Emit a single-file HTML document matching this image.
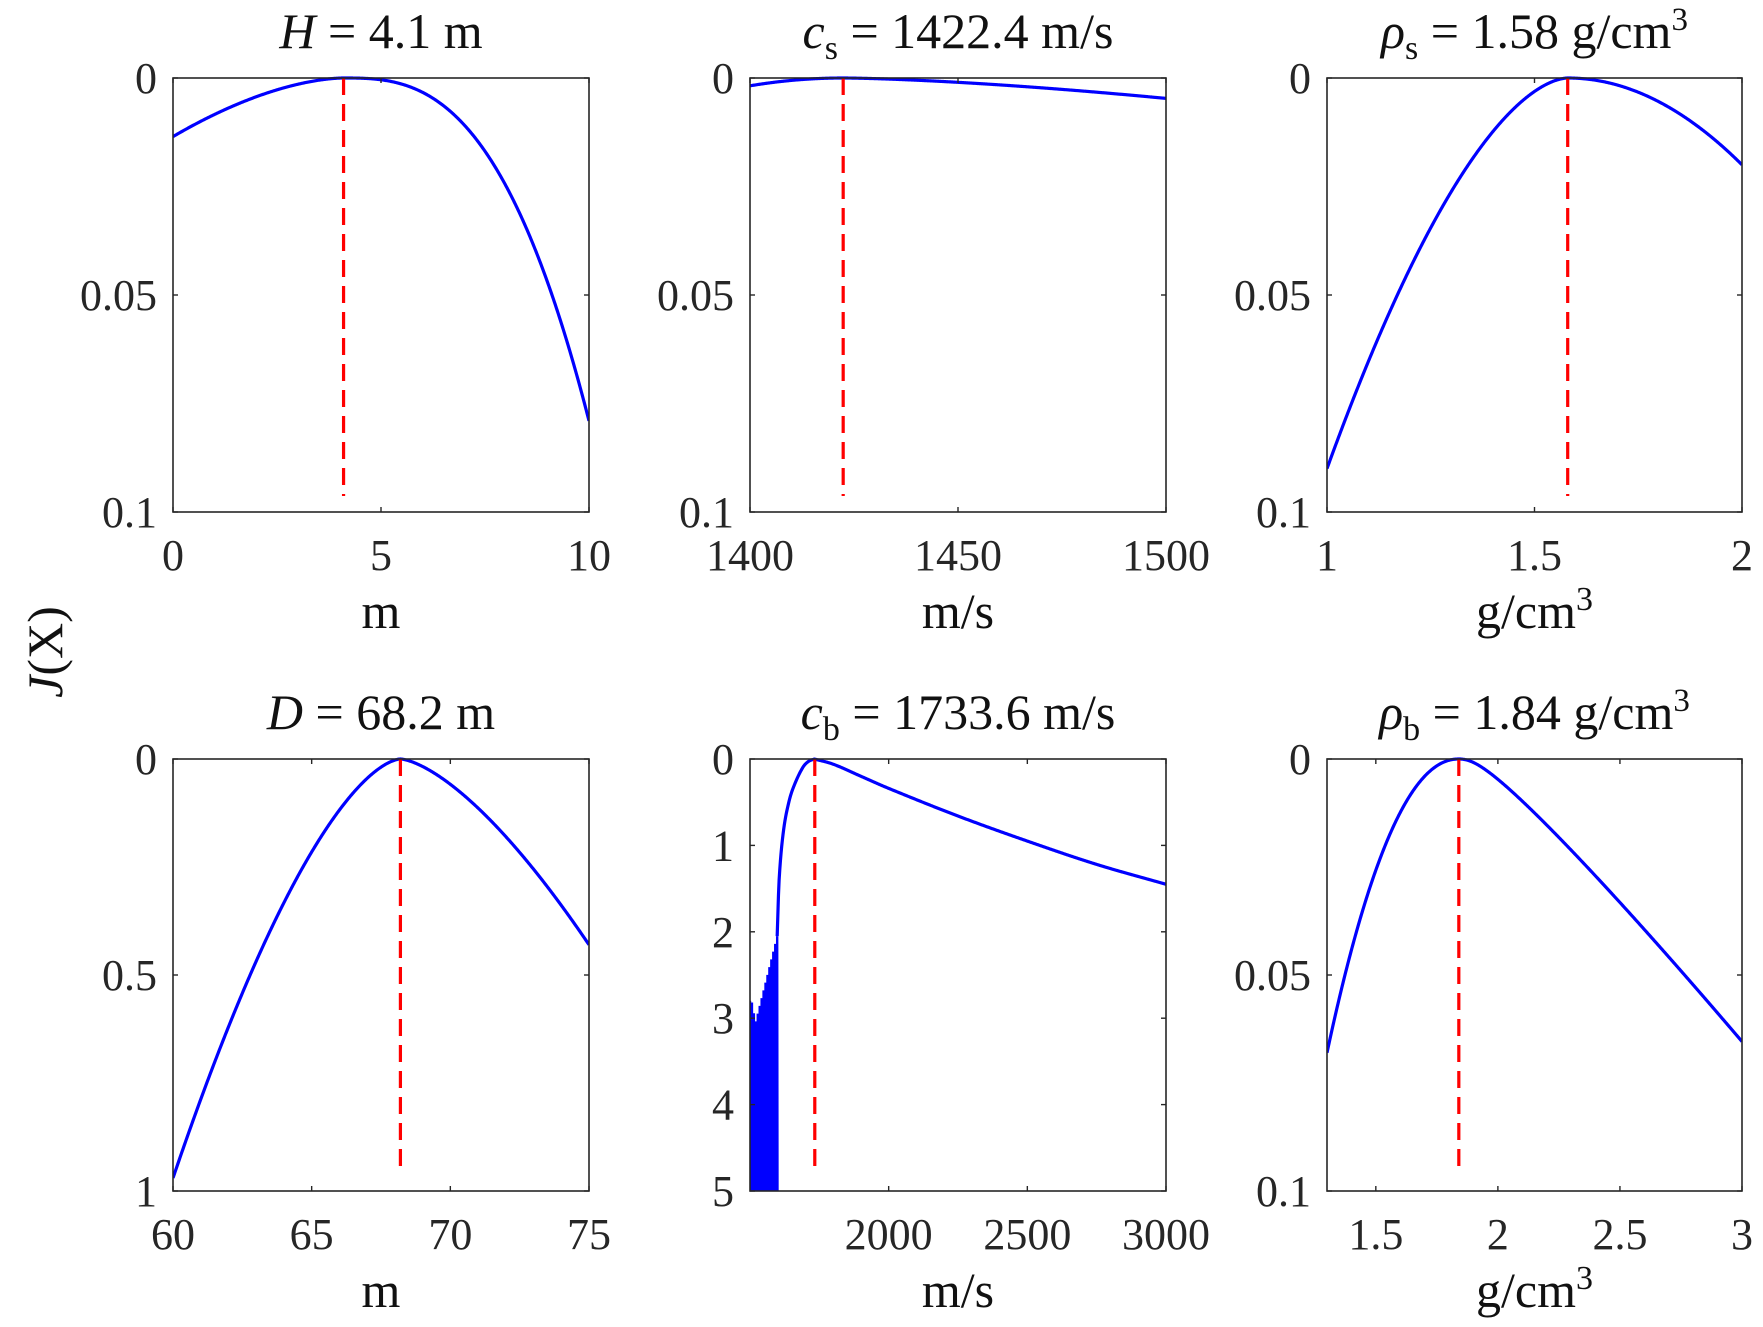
<!DOCTYPE html>
<html><head><meta charset="utf-8">
<style>
html,body{margin:0;padding:0;background:#fff;}
svg{display:block;font-family:"Liberation Serif","DejaVu Serif",serif;}
</style></head>
<body>
<svg id="s" width="1763" height="1327" viewBox="0 0 1763 1327" xmlns="http://www.w3.org/2000/svg">
<text transform="translate(62,652) rotate(-90)" text-anchor="middle" font-size="50" fill="#111"><tspan font-style="italic">J</tspan>(X)</text>
</svg>
<script>
const S=document.getElementById('s');const NS='http://www.w3.org/2000/svg';
function el(t,a,txt){const e=document.createElementNS(NS,t);for(const k in a)e.setAttribute(k,a[k]);if(txt!==undefined)e.innerHTML=txt;S.appendChild(e);return e;}
const cols=[[173,589],[750,1166],[1327,1742]],rows=[[78,512],[759,1191]];
function interp(p,x){const n=p.length;for(let i=0;i<n-1;i++){if(x>=p[i][0]&&x<=p[i+1][0]){
 const x0=p[i][0],x1=p[i+1][0],h=x1-x0,t=(x-x0)/h;
 const m=j=>{if(j<=0)return (p[1][1]-p[0][1])/(p[1][0]-p[0][0]);if(j>=n-1)return (p[n-1][1]-p[n-2][1])/(p[n-1][0]-p[n-2][0]);return (p[j+1][1]-p[j-1][1])/(p[j+1][0]-p[j-1][0]);};
 const m0=m(i)*h,m1=m(i+1)*h,t2=t*t,t3=t2*t;
 return (2*t3-3*t2+1)*p[i][1]+(t3-2*t2+t)*m0+(-2*t3+3*t2)*p[i+1][1]+(t3-t2)*m1;}}return p[n-1][1];}
const cbR=[[1732,0],[1800,0.06],[1900,0.2],[2000,0.34],[2250,0.66],[2500,0.95],[2750,1.22],[3000,1.45]];
const cbL=[[1598,2.05],[1605,1.4],[1620,0.85],[1640,0.5],[1660,0.3],[1690,0.1],[1710,0.03],[1732,0]];
function hyp(d,s){return Math.sqrt(d*d+s*s)-s;}
const P=[
 {c:0,r:0,x0:0,x1:10,y1:0.1,xt:[0,5,10],yt:[[0,'0'],[0.05,'0.05'],[0.1,'0.1']],pk:4.1,
  f:x=>{const d=x-4.1;return d<0?0.0135*Math.pow(-d/4.1,1.7):0.079*Math.pow(d/5.9,2.8);},
  title:'<tspan font-style="italic">H</tspan> = 4.1 m',xl:'m'},
 {c:1,r:0,x0:1400,x1:1500,y1:0.1,xt:[1400,1450,1500],yt:[[0,'0'],[0.05,'0.05'],[0.1,'0.1']],pk:1422.4,
  f:x=>{const d=x-1422.4;return d<0?0.0018*Math.pow(-d/22.4,2):0.0047*Math.pow(d/77.6,1.5);},
  title:'<tspan font-style="italic">c</tspan><tspan font-size="34" dy="11">s</tspan><tspan dy="-11"> = 1422.4 m/s</tspan>',xl:'m/s'},
 {c:2,r:0,x0:1,x1:2,y1:0.1,xt:[[1,'1'],[1.5,'1.5'],[2,'2']],yt:[[0,'0'],[0.05,'0.05'],[0.1,'0.1']],pk:1.58,
  f:x=>{const d=x-1.58;return d<0?0.09*Math.pow(-d/0.58,1.7):0.02*Math.pow(d/0.42,2);},
  title:'<tspan font-style="italic">ρ</tspan><tspan font-size="34" dy="11">s</tspan><tspan dy="-11"> = 1.58 g/cm</tspan><tspan font-size="33" dy="-18">3</tspan>',xl:'g/cm<tspan font-size="34" dy="-18">3</tspan>'},
 {c:0,r:1,x0:60,x1:75,y1:1,xt:[60,65,70,75],yt:[[0,'0'],[0.5,'0.5'],[1,'1']],pk:68.2,
  f:x=>{const d=x-68.2;return d<0?0.97*Math.pow(-d/8.2,1.6):0.43*Math.pow(d/6.8,1.5);},
  title:'<tspan font-style="italic">D</tspan> = 68.2 m',xl:'m'},
 {c:1,r:1,x0:1500,x1:3000,y1:5,xt:[2000,2500,3000],yt:[[0,'0'],[1,'1'],[2,'2'],[3,'3'],[4,'4'],[5,'5']],pk:1733.6,
  f:x=>x>=1732?interp(cbR,x):interp(cbL,x),x2:1598,
  title:'<tspan font-style="italic">c</tspan><tspan font-size="34" dy="11">b</tspan><tspan dy="-11"> = 1733.6 m/s</tspan>',xl:'m/s'},
 {c:2,r:1,x0:1.3,x1:3,y1:0.1,xt:[[1.5,'1.5'],[2,'2'],[2.5,'2.5'],[3,'3']],yt:[[0,'0'],[0.05,'0.05'],[0.1,'0.1']],pk:1.84,
  f:x=>{const d=x-1.84;return d<0?0.068*Math.pow(-d/0.54,2.1):0.0654*Math.pow(hyp(d,0.08)/hyp(1.16,0.08),1.1);},
  title:'<tspan font-style="italic">ρ</tspan><tspan font-size="34" dy="11">b</tspan><tspan dy="-11"> = 1.84 g/cm</tspan><tspan font-size="33" dy="-18">3</tspan>',xl:'g/cm<tspan font-size="34" dy="-18">3</tspan>'}
];
P.forEach((p,i)=>{
 const [L,R]=cols[p.c],[T,B]=rows[p.r];
 const X=v=>L+(v-p.x0)/(p.x1-p.x0)*(R-L), Y=v=>T+v/p.y1*(B-T);
 const cid='c'+i;
 const cp=el('clipPath',{id:cid});const rr=document.createElementNS(NS,'rect');rr.setAttribute('x',L);rr.setAttribute('y',T-2);rr.setAttribute('width',R-L);rr.setAttribute('height',B-T+2);cp.appendChild(rr);
 let pts=[];const start=p.x2||p.x0;const N=600;
 for(let k=0;k<=N;k++){const x=start+(p.x1-start)*k/N;pts.push(X(x).toFixed(2)+','+Y(Math.min(p.f(x),p.y1*1.2)).toFixed(2));}
 if(p.x2){
  let z=[];const M=28;
  for(let k=0;k<=M;k++){const x=1500+(1598-1500)*k/M;
   let env=x<1506?2.8:(x<1520?2.8+(x-1506)/14*0.25:3.05-(x-1520)/78*1.0);
   env+= (k%2)*0.12;
   z.push(X(x).toFixed(2)+','+Y(env).toFixed(2));
   z.push(X(x+1.2).toFixed(2)+','+Y(x<1503?4.6:5.3).toFixed(2));}
  el('polyline',{points:z.join(' '),fill:'none',stroke:'#0000ff','stroke-width':2.4,'clip-path':'url(#'+cid+')'});
 }
 el('polyline',{points:pts.join(' '),fill:'none',stroke:'#0000ff','stroke-width':3.2,'stroke-linejoin':'round','clip-path':'url(#'+cid+')'});
 el('line',{x1:X(p.pk),x2:X(p.pk),y1:T,y2:B-16,stroke:'#ff0000','stroke-width':3.2,'stroke-dasharray':'17 9'});
 el('rect',{x:L,y:T,width:R-L,height:B-T,fill:'none',stroke:'#262626','stroke-width':1.6});
 p.xt.forEach(t=>{const v=Array.isArray(t)?t[0]:t,lab=Array.isArray(t)?t[1]:String(t);const x=X(v);
  el('line',{x1:x,x2:x,y1:B,y2:B-5,stroke:'#262626','stroke-width':1.4});
  el('line',{x1:x,x2:x,y1:T,y2:T+5,stroke:'#262626','stroke-width':1.4});
  el('text',{x:x,y:B+58,'text-anchor':'middle','font-size':44,fill:'#262626'},lab);});
 p.yt.forEach(t=>{const y=Y(t[0]);
  el('line',{x1:L,x2:L+5,y1:y,y2:y,stroke:'#262626','stroke-width':1.4});
  el('line',{x1:R,x2:R-5,y1:y,y2:y,stroke:'#262626','stroke-width':1.4});
  el('text',{x:L-16,y:y+15,'text-anchor':'end','font-size':44,fill:'#262626'},t[1]);});
 el('text',{x:(L+R)/2,y:T-30,'text-anchor':'middle','font-size':50,fill:'#111'},p.title);
 el('text',{x:(L+R)/2,y:B+116,'text-anchor':'middle','font-size':50,fill:'#111'},p.xl);
});
</script>
</body></html>
